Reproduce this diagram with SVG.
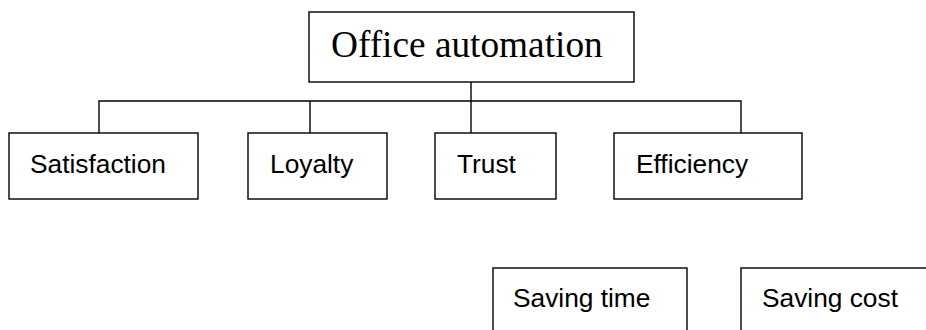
<svg xmlns="http://www.w3.org/2000/svg" width="926" height="330" viewBox="0 0 926 330">
  <style>
    .box { fill: #fff; stroke: #000; stroke-width: 1.4; }
    .wire { fill: none; stroke: #000; stroke-width: 1.4; }
    .lbl { font-family: "Liberation Sans", Arial, sans-serif; font-size: 26.3px; fill: #000; }
    .title { font-family: "Liberation Serif", "Times New Roman", serif; font-size: 37.3px; fill: #000; }
  </style>
  <rect width="926" height="330" fill="#fff"/>

  <!-- tree connectors -->
  <g id="connectors">
    <path class="wire" d="M471 82 V101"/>
    <path class="wire" d="M99 133 V101 H741 V133"/>
    <path class="wire" d="M310 101 V133"/>
    <path class="wire" d="M471 101 V133"/>
  </g>

  <g id="office-automation">
    <rect class="box" x="309" y="12" width="325" height="70"/>
    <text class="title" x="331" y="57">Office automation</text>
  </g>

  <g id="satisfaction">
    <rect class="box" x="9" y="133" width="189" height="66"/>
    <text class="lbl" x="30" y="173">Satisfaction</text>
  </g>

  <g id="loyalty">
    <rect class="box" x="248" y="133" width="139" height="66"/>
    <text class="lbl" x="270" y="173">Loyalty</text>
  </g>

  <g id="trust">
    <rect class="box" x="435" y="133" width="121" height="66"/>
    <text class="lbl" x="457" y="173">Trust</text>
  </g>

  <g id="efficiency">
    <rect class="box" x="614" y="133" width="188" height="66"/>
    <text class="lbl" x="636" y="173">Efficiency</text>
  </g>

  <g id="saving-time">
    <rect class="box" x="493" y="268" width="194" height="80"/>
    <text class="lbl" x="513" y="307">Saving time</text>
  </g>

  <g id="saving-cost">
    <rect class="box" x="741" y="268" width="200" height="80"/>
    <text class="lbl" x="762" y="307">Saving cost</text>
  </g>
</svg>
